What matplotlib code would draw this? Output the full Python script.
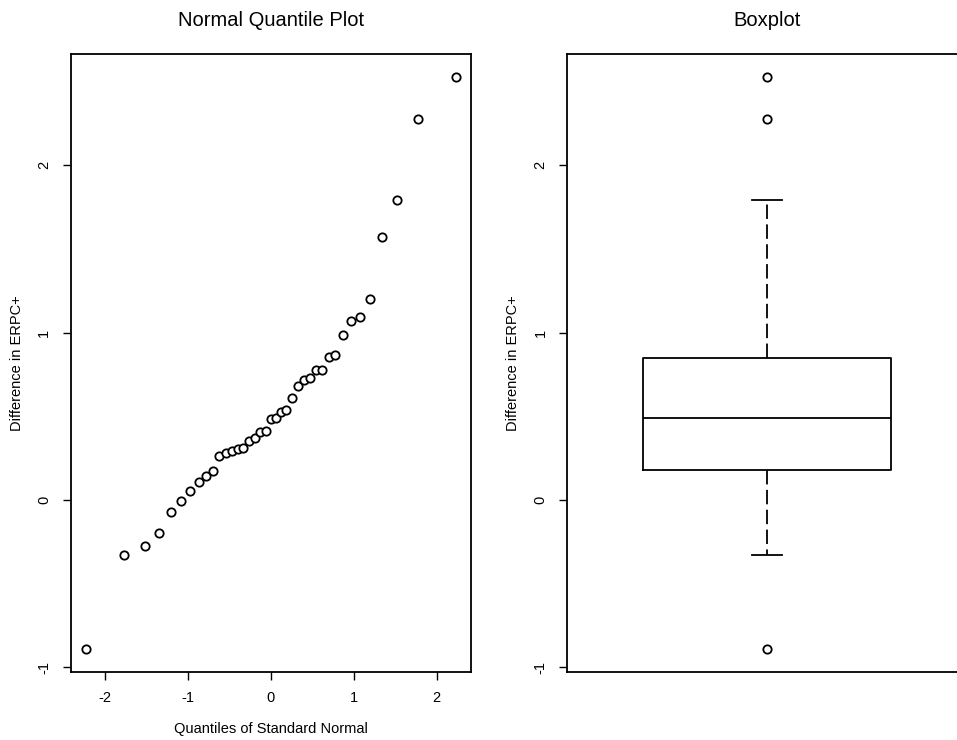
import numpy as np
import matplotlib.pyplot as plt

# Differences in ERPC+ (sorted)
diff_erpc = [-0.891, -0.330, -0.275, -0.195, -0.070, -0.006, 0.056, 0.107, 0.143, 0.175,
             0.265, 0.283, 0.294, 0.303, 0.310, 0.354, 0.372, 0.408, 0.414, 0.486,
             0.490, 0.524, 0.535, 0.607, 0.681, 0.714, 0.726, 0.774, 0.776, 0.852,
             0.864, 0.985, 1.071, 1.094, 1.202, 1.570, 1.789, 2.277, 2.527]

# Standard normal quantiles on the x axis
norm_q = [-2.23, -1.77, -1.52, -1.34, -1.20, -1.08, -0.97, -0.87, -0.78, -0.70,
          -0.62, -0.54, -0.47, -0.40, -0.33, -0.26, -0.19, -0.13, -0.06, 0.00,
          0.06, 0.13, 0.19, 0.26, 0.33, 0.40, 0.47, 0.54, 0.62, 0.70,
          0.78, 0.87, 0.97, 1.08, 1.20, 1.34, 1.52, 1.77, 2.23]

# Boxplot summary
box_q1, box_med, box_q3 = 0.18, 0.49, 0.85
whisk_lo, whisk_hi = -0.33, 1.79
outliers = [-0.891, 2.277, 2.527]

yticks = [-1, 0, 1, 2]
xticks = [-2, -1, 0, 1, 2]

plt.rcParams['font.family'] = ['Liberation Sans', 'DejaVu Sans']

fig = plt.figure(figsize=(9.57, 7.40), dpi=100)
ax1 = fig.add_axes([70.7 / 957, 1 - 672 / 740, 400 / 957, 618 / 740])
ax2 = fig.add_axes([567 / 957, 1 - 672 / 740, 400 / 957, 618 / 740])

ylo = min(diff_erpc) - 0.04 * (max(diff_erpc) - min(diff_erpc))
yhi = max(diff_erpc) + 0.04 * (max(diff_erpc) - min(diff_erpc))

# Normal quantile plot
ax1.plot(norm_q, diff_erpc, 'o', mfc='white', mec='black', ms=6, mew=1.3)
ax1.set_xlim(-2.41, 2.41)
ax1.set_ylim(ylo, yhi)
ax1.set_xticks(xticks)
ax1.set_xticklabels([str(v) for v in xticks])
ax1.set_xlabel("Quantiles of Standard Normal", fontsize=10.5, labelpad=12)
ax1.set_title("Normal Quantile Plot", fontsize=14.5, pad=20)

# Boxplot
stats = [dict(med=box_med, q1=box_q1, q3=box_q3, whislo=whisk_lo, whishi=whisk_hi,
              fliers=outliers)]
ax2.bxp(stats, positions=[1], widths=0.62, showfliers=True,
        boxprops=dict(color='black', linewidth=1.3),
        medianprops=dict(color='black', linewidth=1.3),
        whiskerprops=dict(color='black', linewidth=1.3, linestyle=(0, (8, 3))),
        capprops=dict(color='black', linewidth=1.3),
        capwidths=0.075,
        flierprops=dict(marker='o', mfc='white', mec='black', ms=6, mew=1.3))
ax2.set_xlim(0.5, 1.5)
ax2.set_ylim(ylo, yhi)
ax2.set_xticks([])
ax2.set_title("Boxplot", fontsize=14.5, pad=20)

for ax in (ax1, ax2):
    ax.set_yticks(yticks)
    ax.set_yticklabels([str(v) for v in yticks], rotation=90, va='center')
    ax.set_ylabel("Difference in ERPC+", fontsize=10.5)
    ax.yaxis.set_label_coords(-0.117, 0.5)
    ax.tick_params(direction='out', length=6, width=1, labelsize=10.5, pad=8)
    for s in ax.spines.values():
        s.set_linewidth(1.3)

fig.savefig("out.png", dpi=100)
